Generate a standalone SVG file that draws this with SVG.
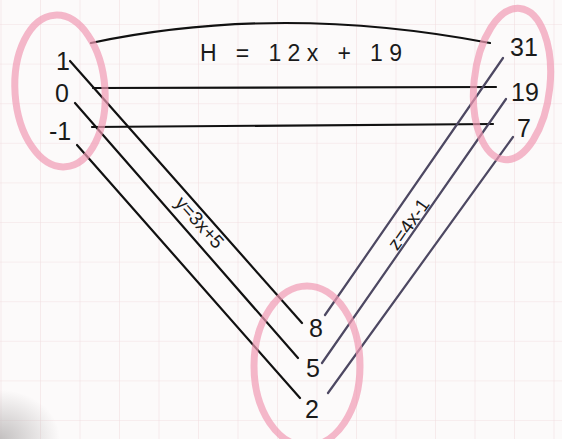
<svg xmlns="http://www.w3.org/2000/svg" width="562" height="439" viewBox="0 0 562 439">
<style>
.num{font-family:"Liberation Sans","DejaVu Sans",sans-serif;font-size:25px;fill:#1a1a1a;text-anchor:middle}
.lbl{font-family:"Liberation Sans","DejaVu Sans",sans-serif;font-size:19px;fill:#1a1a1a;text-anchor:middle}
.ttl{font-family:"Liberation Sans","DejaVu Sans",sans-serif;font-size:23px;fill:#1a1a1a}
.ring{fill:none;stroke:#f19ab4;stroke-width:7;opacity:0.7}
.blk{fill:none;stroke:#111;stroke-width:2.2;stroke-linecap:round}
.pur{fill:none;stroke:#4d4862;stroke-width:2.2;stroke-linecap:round}
</style>
<defs>
<pattern id="grid" x="0.5" y="24" width="39.5" height="39.6" patternUnits="userSpaceOnUse">
<path d="M0 0V39.6M0 0H39.5" fill="none" stroke="#f2dfe1" stroke-width="1.2"/>
</pattern>
<radialGradient id="shade" cx="0" cy="1" r="1">
<stop offset="0" stop-color="#bdbaba" stop-opacity="0.9"/>
<stop offset="1" stop-color="#bdbaba" stop-opacity="0"/>
</radialGradient>
</defs>
<rect width="562" height="439" fill="#fcfafa"/>
<rect width="562" height="439" fill="url(#grid)"/>
<rect x="0" y="390" width="60" height="49" fill="url(#shade)"/>

<g id="connectors">
<path class="blk" d="M91 43 Q 280 3 490 43"/>
<path class="blk" d="M93 88 L 496 87"/>
<path class="blk" d="M92 127 L 493 124"/>
<path class="blk" d="M70 61 L 302 323"/>
<path class="blk" d="M75 103 L 298 358"/>
<path class="blk" d="M77 145 L 300 398"/>
<path class="pur" d="M325 315 L 503 58"/>
<path class="pur" d="M322 363 L 506 99"/>
<path class="pur" d="M328 393 L 513 137"/>
<text class="ttl" x="200" y="61" textLength="202" lengthAdjust="spacing">H = 12x + 19</text>
<text class="lbl" transform="translate(200 222) rotate(48)" y="7">y=3x+5</text>
<text class="lbl" transform="translate(408 224) rotate(-55)" y="7">z=4x-1</text>
</g>

<g id="set-x">
<ellipse class="ring" cx="60" cy="91" rx="45" ry="76" transform="rotate(-4 60 91)"/>
<text class="num" x="63" y="70">1</text>
<text class="num" x="62" y="102">0</text>
<text class="num" x="60" y="140">-1</text>
</g>

<g id="set-z">
<ellipse class="ring" cx="512" cy="84" rx="38" ry="76" transform="rotate(6 512 84)"/>
<text class="num" x="524" y="56">31</text>
<text class="num" x="525" y="101">19</text>
<text class="num" x="524" y="137">7</text>
</g>

<g id="set-y">
<ellipse class="ring" cx="307" cy="366" rx="53" ry="80"/>
<text class="num" x="316" y="337">8</text>
<text class="num" x="313" y="377">5</text>
<text class="num" x="312" y="418">2</text>
</g>
</svg>
